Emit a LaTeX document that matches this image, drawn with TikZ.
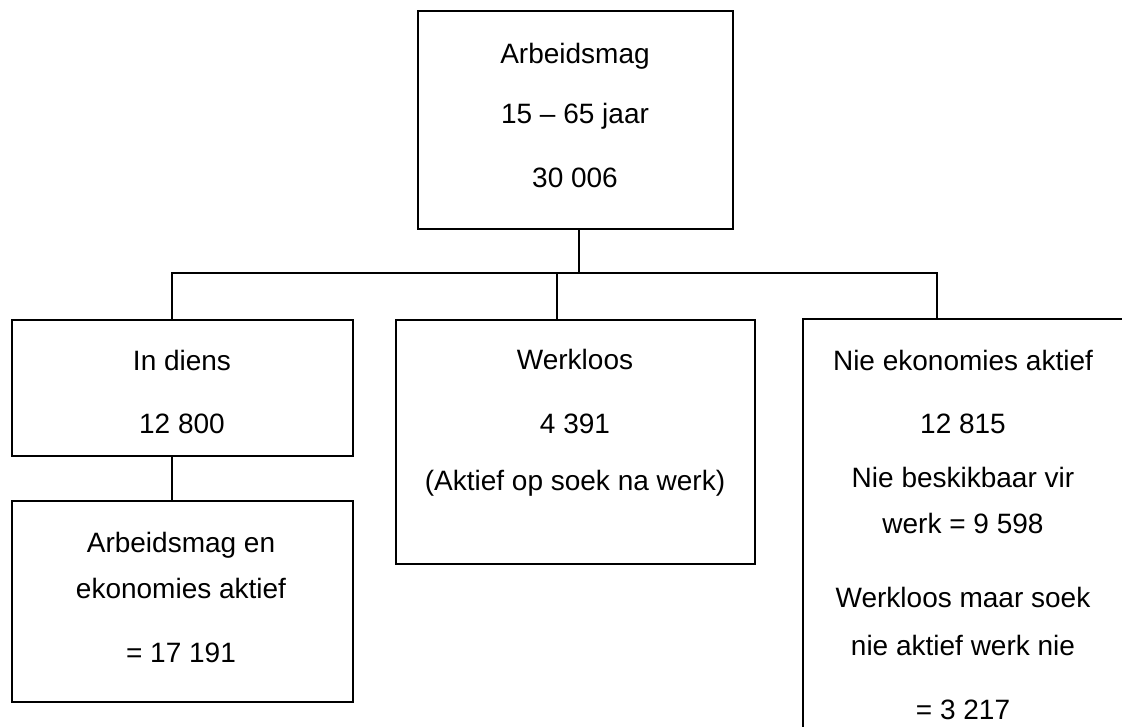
\documentclass[tikz,border=0pt]{standalone}
\usepackage{fontspec}
\setmainfont{Liberation Sans}
\begin{document}
\begin{tikzpicture}[x=1pt,y=-1pt,
  box/.style={draw, line width=1.7pt, rectangle, anchor=north west, inner sep=0pt},
  txt/.style={anchor=base, inner sep=0pt, font=\fontsize{28}{33}\selectfont},
  wire/.style={line width=1.7pt}]
\useasboundingbox (0,0) rectangle (1122,726);
\begin{scope}
\clip (0,0) rectangle (1122,726);

% boxes
\node[box, minimum width=315pt, minimum height=218pt] (top) at (417,10) {};
\node[box, minimum width=341pt, minimum height=136pt] (diens) at (11,319) {};
\node[box, minimum width=341pt, minimum height=201pt] (mag) at (11,500) {};
\node[box, minimum width=359pt, minimum height=244pt] (werk) at (395,319) {};
\node[box, minimum width=322pt, minimum height=500pt] (nie) at (802,318) {};

% texts
\node[txt] (t1) at (575,63) {Arbeidsmag};
\node[txt] (t2) at (575,123) {15 -- 65 jaar};
\node[txt] (t3) at (575,187) {30 006};

\node[txt] (d1) at (182,370) {In diens};
\node[txt] (d2) at (182,433) {12 800};

\node[txt] (m1) at (181,552) {Arbeidsmag en};
\node[txt] (m2) at (181,598) {ekonomies aktief};
\node[txt] (m3) at (181,662) {= 17 191};

\node[txt] (w1) at (575,369) {Werkloos};
\node[txt] (w2) at (575,433) {4 391};
\node[txt] (w3) at (575,490) {(Aktief op soek na werk)};

\node[txt] (n1) at (963,370) {Nie ekonomies aktief};
\node[txt] (n2) at (963,433) {12 815};
\node[txt] (n3) at (963,487) {Nie beskikbaar vir};
\node[txt] (n4) at (963,533) {werk = 9 598};
\node[txt] (n5) at (963,607) {Werkloos maar soek};
\node[txt] (n6) at (963,655) {nie aktief werk nie};
\node[txt] (n7) at (963,719) {= 3 217};

% connectors
\coordinate (tj) at (579,273);
\coordinate (lj) at (172,273);
\coordinate (mj) at (557,273);
\coordinate (rj) at (937,273);
\draw[wire] (tj |- top.south) -- (tj);
\draw[wire] (lj |- diens.north) -- (lj) -- (rj) -- (rj |- nie.north);
\draw[wire] (mj) -- (mj |- werk.north);
\draw[wire] (lj |- diens.south) -- (lj |- mag.north);
\end{scope}
\end{tikzpicture}
\end{document}
